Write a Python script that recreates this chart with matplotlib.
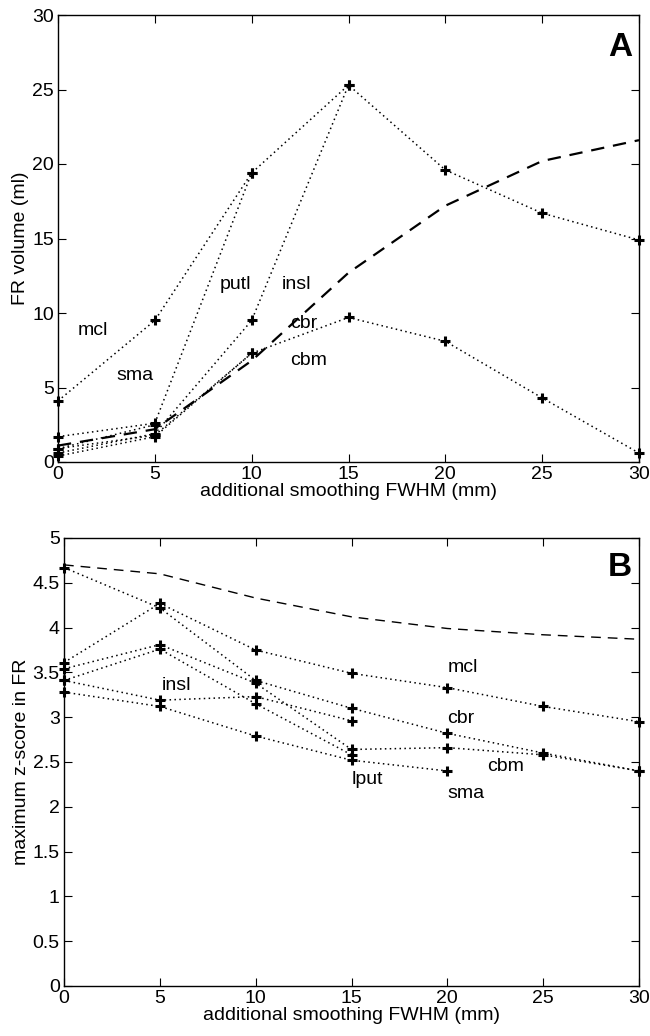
import matplotlib
matplotlib.use("Agg")
import matplotlib.pyplot as plt
import numpy as np

plt.rcParams['font.family'] = ['Liberation Sans', 'DejaVu Sans']

# ---------------- data: panel A (FR volume, ml) ----------------
smoothing = [0, 5, 10, 15, 20, 25, 30]
a_mcl_x = [0, 5, 10, 15, 20, 25, 30]
a_mcl_y = [4.1, 9.5, 19.4, 25.3, 19.6, 16.7, 14.9]
a_putl_x = [0, 5, 10]
a_putl_y = [1.7, 2.6, 19.4]
a_sma_x = [0, 5]
a_sma_y = [0.9, 2.5]
a_insl_x = [0, 5, 10, 15]
a_insl_y = [0.6, 1.9, 9.5, 25.3]
a_cbr_x = [0, 5, 10, 15, 20, 25, 30]
a_cbr_y = [0.9, 1.8, 7.3, 9.7, 8.1, 4.3, 0.6]
a_cbm_x = [0, 5, 10]
a_cbm_y = [0.4, 1.7, 7.3]
a_dashed_y = [1.1, 2.2, 6.8, 12.7, 17.2, 20.2, 21.6]

# ---------------- data: panel B (maximum z-score in FR) ----------------
b_mcl_x = [0, 5, 10, 15, 20, 25, 30]
b_mcl_y = [3.61, 4.27, 3.75, 3.49, 3.33, 3.12, 2.95]
b_cbr_x = [0, 5, 10, 15, 20, 25, 30]
b_cbr_y = [4.67, 4.22, 3.41, 3.10, 2.82, 2.60, 2.40]
b_cbm_x = [0, 5, 10, 15, 20, 25, 30]
b_cbm_y = [3.54, 3.81, 3.38, 2.64, 2.66, 2.58, 2.40]
b_insl_x = [0, 5, 10, 15]
b_insl_y = [3.41, 3.19, 3.23, 2.96]
b_lput_x = [0, 5, 10, 15]
b_lput_y = [3.41, 3.76, 3.15, 2.58]
b_sma_x = [0, 5, 10, 15, 20]
b_sma_y = [3.28, 3.12, 2.79, 2.52, 2.40]
b_dashed_y = [4.70, 4.60, 4.33, 4.12, 3.99, 3.92, 3.87]

xticks = [0, 5, 10, 15, 20, 25, 30]
a_yticks = [0, 5, 10, 15, 20, 25, 30]
b_yticks = [0, 0.5, 1, 1.5, 2, 2.5, 3, 3.5, 4, 4.5, 5]
b_yticklabels = ['0', '0.5', '1', '1.5', '2', '2.5', '3', '3.5', '4', '4.5', '5']
xlabel = 'additional smoothing FWHM (mm)'

FS = 14

fig = plt.figure(figsize=(6.5, 10.36), dpi=100)
axA = fig.add_axes([58/650, 1 - 462/1036, 581/650, 447/1036])
axB = fig.add_axes([64/650, 1 - 986/1036, 575/650, 448/1036])

dot = dict(color='black', linestyle=(0, (1, 2.2)), linewidth=1.1,
           marker='+', markersize=7, markeredgewidth=2.2)


def style(ax, yticks, ylabels=None):
    ax.set_xlim(0, 30)
    ax.set_xticks(xticks)
    ax.set_xticklabels([str(t) for t in xticks], fontsize=FS)
    ax.set_yticks(yticks)
    if ylabels is None:
        ylabels = [str(t) for t in yticks]
    ax.set_yticklabels(ylabels, fontsize=FS)
    ax.tick_params(direction='in', length=6, width=0.8, top=True, right=True,
                   pad=3)
    for s in ax.spines.values():
        s.set_linewidth(1.0)
    ax.set_xlabel(xlabel, fontsize=FS, labelpad=0)


# Panel A
for xs, ys in [(a_mcl_x, a_mcl_y), (a_putl_x, a_putl_y), (a_sma_x, a_sma_y),
               (a_insl_x, a_insl_y), (a_cbr_x, a_cbr_y), (a_cbm_x, a_cbm_y)]:
    axA.plot(xs, ys, **dot, clip_on=False)
axA.plot(smoothing, a_dashed_y, color='black', linestyle=(0, (6, 4)), linewidth=1.6)
axA.set_ylim(0, 30)
style(axA, a_yticks)
axA.set_ylabel('FR volume (ml)', fontsize=FS, labelpad=2)
for txt, x, y in [('mcl', 1.0, 8.85), ('sma', 3.0, 5.8), ('putl', 8.35, 11.9),
                  ('insl', 11.55, 11.9), ('cbr', 12.0, 9.3), ('cbm', 12.0, 6.8)]:
    axA.text(x, y, txt, fontsize=FS, ha='left', va='center')
axA.text(0.988, 0.962, 'A', transform=axA.transAxes, fontsize=24,
         fontweight='bold', ha='right', va='top')

# Panel B
for xs, ys in [(b_mcl_x, b_mcl_y), (b_cbr_x, b_cbr_y), (b_cbm_x, b_cbm_y),
               (b_insl_x, b_insl_y), (b_lput_x, b_lput_y), (b_sma_x, b_sma_y)]:
    axB.plot(xs, ys, **dot, clip_on=False)
axB.plot(smoothing, b_dashed_y, color='black', linestyle=(0, (7, 5)), linewidth=1.0)
axB.set_ylim(0, 5)
style(axB, b_yticks, b_yticklabels)
axB.set_ylabel('maximum z-score in FR', fontsize=FS, labelpad=2)
for txt, x, y in [('insl', 5.1, 3.35), ('mcl', 20.0, 3.56), ('cbr', 20.0, 2.99),
                  ('cbm', 22.05, 2.45), ('lput', 15.0, 2.30), ('sma', 20.0, 2.15)]:
    axB.text(x, y, txt, fontsize=FS, ha='left', va='center')
axB.text(0.988, 0.968, 'B', transform=axB.transAxes, fontsize=24,
         fontweight='bold', ha='right', va='top')

fig.savefig('out.png', dpi=100)
